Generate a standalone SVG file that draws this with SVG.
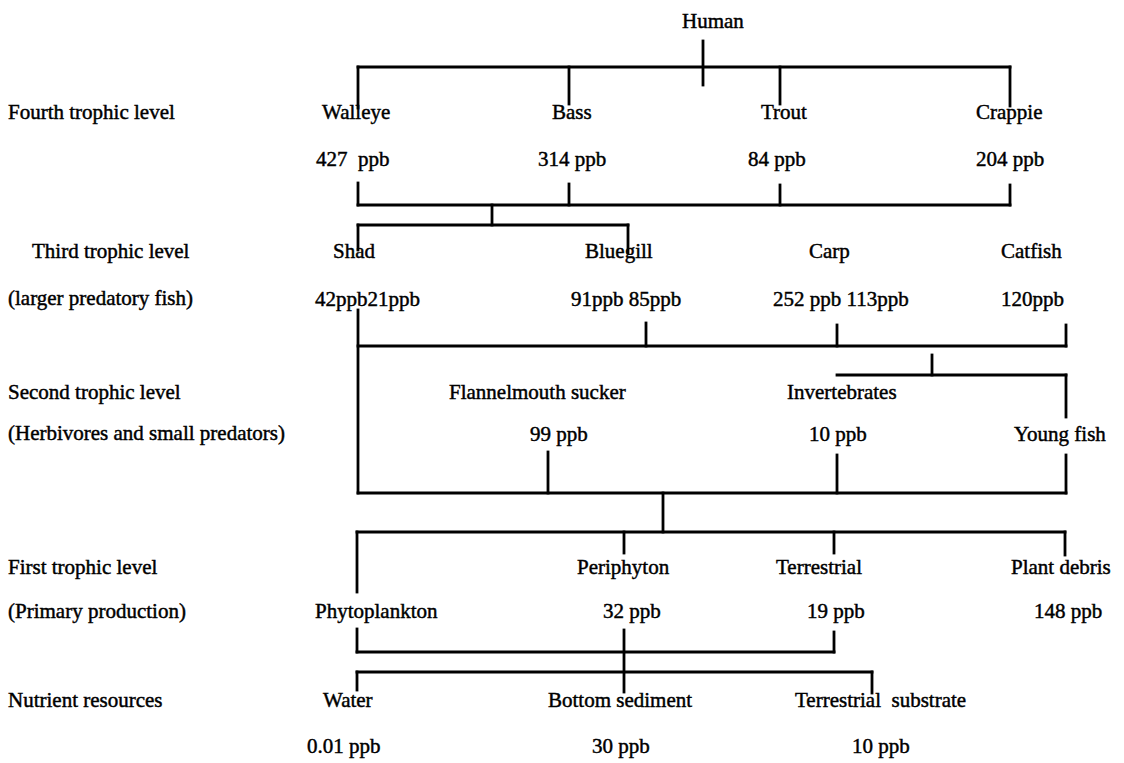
<svg xmlns="http://www.w3.org/2000/svg" width="1124" height="763" viewBox="0 0 1124 763">
<style>
text{font-family:"Liberation Serif","Times New Roman",serif;font-size:21px;fill:#000;stroke:#000;stroke-width:0.45;white-space:pre}
.c line{stroke:#000;stroke-width:2.8;stroke-linecap:square}
</style>
<rect width="1124" height="763" fill="#fff"/>
<g id="connectors" class="c">
<line x1="703" y1="41" x2="703" y2="85"/>
<line x1="358" y1="67" x2="1010" y2="67"/>
<line x1="358" y1="67" x2="358" y2="108"/>
<line x1="569" y1="67" x2="569" y2="104"/>
<line x1="780" y1="67" x2="780" y2="104"/>
<line x1="1010" y1="67" x2="1010" y2="106"/>
<line x1="358" y1="205" x2="1010" y2="205"/>
<line x1="358" y1="183" x2="358" y2="205"/>
<line x1="569" y1="184" x2="569" y2="205"/>
<line x1="780" y1="185" x2="780" y2="205"/>
<line x1="1010" y1="185" x2="1010" y2="205"/>
<line x1="492" y1="205" x2="492" y2="225"/>
<line x1="358" y1="225" x2="628" y2="225"/>
<line x1="358" y1="225" x2="358" y2="250"/>
<line x1="628" y1="225" x2="628" y2="253"/>
<line x1="358" y1="310" x2="358" y2="493"/>
<line x1="358" y1="346" x2="1066" y2="346"/>
<line x1="646" y1="323" x2="646" y2="346"/>
<line x1="837" y1="325" x2="837" y2="346"/>
<line x1="1066" y1="325" x2="1066" y2="346"/>
<line x1="932" y1="355" x2="932" y2="375"/>
<line x1="837" y1="375" x2="1066" y2="375"/>
<line x1="1066" y1="375" x2="1066" y2="417"/>
<line x1="548" y1="452" x2="548" y2="493"/>
<line x1="837" y1="455" x2="837" y2="493"/>
<line x1="1066" y1="455" x2="1066" y2="493"/>
<line x1="358" y1="493" x2="1066" y2="493"/>
<line x1="663" y1="493" x2="663" y2="532"/>
<line x1="357" y1="532" x2="1065" y2="532"/>
<line x1="357" y1="532" x2="357" y2="592"/>
<line x1="624" y1="532" x2="624" y2="553"/>
<line x1="834" y1="532" x2="834" y2="553"/>
<line x1="1065" y1="532" x2="1065" y2="555"/>
<line x1="357" y1="652" x2="834" y2="652"/>
<line x1="357" y1="629" x2="357" y2="652"/>
<line x1="834" y1="632" x2="834" y2="652"/>
<line x1="624" y1="630" x2="624" y2="692"/>
<line x1="357" y1="672" x2="872" y2="672"/>
<line x1="357" y1="672" x2="357" y2="690"/>
<line x1="872" y1="672" x2="872" y2="693"/>
</g>
<g id="row-labels">
<text x="8" y="119">Fourth trophic level</text>
<text x="32" y="258">Third trophic level</text>
<text x="8" y="305">(larger predatory fish)</text>
<text x="8" y="399">Second trophic level</text>
<text x="8" y="440">(Herbivores and small predators)</text>
<text x="8" y="574">First trophic level</text>
<text x="8" y="618">(Primary production)</text>
<text x="8" y="707">Nutrient resources</text>
</g>
<g id="human"><text x="682" y="28">Human</text></g>
<g id="walleye"><text x="322" y="119">Walleye</text><text x="316" y="166">427  ppb</text></g>
<g id="bass"><text x="552" y="119">Bass</text><text x="538" y="166">314 ppb</text></g>
<g id="trout"><text x="761" y="119">Trout</text><text x="748" y="166">84 ppb</text></g>
<g id="crappie"><text x="976" y="119">Crappie</text><text x="976" y="166">204 ppb</text></g>
<g id="shad"><text x="333" y="258">Shad</text><text x="315" y="306">42ppb21ppb</text></g>
<g id="bluegill"><text x="585" y="258">Bluegill</text><text x="571" y="306">91ppb 85ppb</text></g>
<g id="carp"><text x="809" y="258">Carp</text><text x="773" y="306">252 ppb 113ppb</text></g>
<g id="catfish"><text x="1001" y="258">Catfish</text><text x="1001" y="306">120ppb</text></g>
<g id="flannelmouth"><text x="449" y="399">Flannelmouth sucker</text><text x="530" y="441">99 ppb</text></g>
<g id="invertebrates"><text x="787" y="399">Invertebrates</text><text x="809" y="441">10 ppb</text></g>
<g id="youngfish"><text x="1014" y="441">Young fish</text></g>
<g id="phytoplankton"><text x="315" y="618">Phytoplankton</text></g>
<g id="periphyton"><text x="577" y="574">Periphyton</text><text x="603" y="618">32 ppb</text></g>
<g id="terrestrial"><text x="776" y="574">Terrestrial</text><text x="807" y="618">19 ppb</text></g>
<g id="plantdebris"><text x="1011" y="574">Plant debris</text><text x="1034" y="618">148 ppb</text></g>
<g id="water"><text x="323" y="707">Water</text><text x="307" y="753">0.01 ppb</text></g>
<g id="bottomsediment"><text x="548" y="707">Bottom sediment</text><text x="592" y="753">30 ppb</text></g>
<g id="terrestrialsubstrate"><text x="795" y="707">Terrestrial  substrate</text><text x="852" y="753">10 ppb</text></g>
</svg>
